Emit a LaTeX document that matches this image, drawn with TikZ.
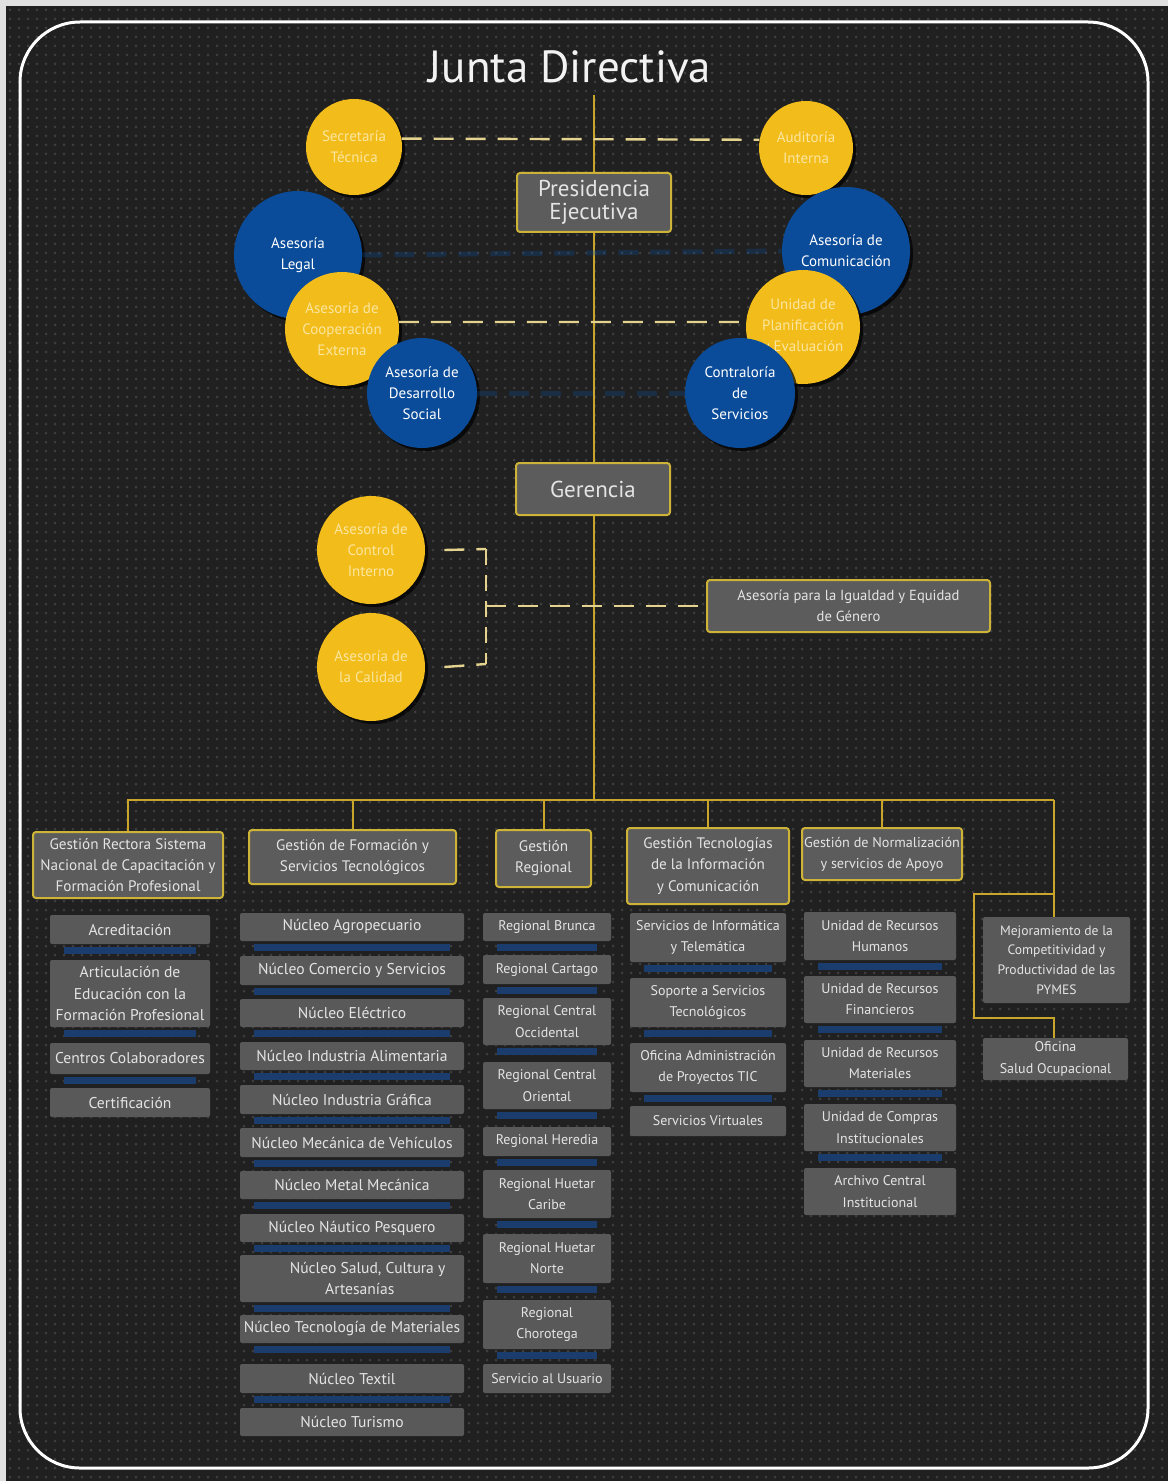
\documentclass[tikz,border=0pt]{standalone}
\usepackage{fontspec}
\setmainfont{PT Sans}
\usetikzlibrary{calc,shadows}

\definecolor{bg}{HTML}{202020}
\definecolor{dotc}{HTML}{3E3E3E}
\definecolor{gold}{HTML}{F2BC1B}
\definecolor{goldtxt}{HTML}{FBE6A0}
\definecolor{navy}{HTML}{0B4C9A}
\definecolor{conncol}{HTML}{C9A52C}
\definecolor{frameY}{HTML}{CDB438}
\definecolor{boxg}{HTML}{5C5C5C}
\definecolor{subg}{HTML}{595959}
\definecolor{barcol}{HTML}{1B3D6E}
\definecolor{dashc}{HTML}{E3D38E}
\definecolor{txt}{HTML}{E4E4E4}

\tikzset{
  wd/.style={minimum width=#1*0.5pt},
  ht/.style={minimum height=#1*0.5pt},
  conn/.style={conncol, line width=1pt},
  dashline/.style={dashc, line width=1.2pt, dash pattern=on 10pt off 6pt},
  blueline/.style={navy, line width=2.5pt, dash pattern=on 10pt off 6pt, opacity=0.3},
  disc/.style={circle, inner sep=0pt, align=center, minimum size=#1*1pt,
    font=\fontsize{7.5}{10.5}\selectfont,
    drop shadow={shadow xshift=1.5pt, shadow yshift=-1.5pt, opacity=0.7, fill=black}},
  gdisc/.style={disc=#1, fill=gold, text=goldtxt},
  bdisc/.style={disc=#1, fill=navy, text=white},
  headbox/.style={draw=frameY, line width=1pt, fill=boxg, rounded corners=1.5pt,
    text=txt, align=center, inner sep=1pt},
  topbox/.style={headbox, font=\fontsize{7.6}{10.6}\selectfont},
  subbox/.style={fill=subg, rounded corners=1pt, text=txt, align=center, inner sep=1pt},
  subA/.style={subbox, font=\fontsize{7.8}{10.8}\selectfont},
  subB/.style={subbox, font=\fontsize{7}{10.6}\selectfont},
}

\begin{document}
\begin{tikzpicture}[x=0.5pt, y=-0.5pt]
% page and background
\fill[white!88!black] (0,0) rectangle (1168,1481);
\fill[bg] (6,6) rectangle (1168,1481);
\foreach \r in {0,...,163}
  \draw[dotc, line width=1.5pt, line cap=round, dash pattern=on 0pt off 4.5pt]
    (10,{10+\r*9}) -- (1168,{10+\r*9});
\draw[white, line width=1.5pt, rounded corners=30pt] (20,22) rectangle (1148,1468);

% title and main spine
\node[text=white!95!black, font=\fontsize{22.5}{26}\selectfont] (title) at (570,67) {Junta Directiva};
\coordinate (top) at (594,95);
\coordinate (busM) at (594,800);
\coordinate (busL) at (127,800);
\coordinate (busR) at (1054,800);
\draw[conn] (top) -- (busM);
\draw[conn] (busL) -- (busR);

% staff circles around the presidency
\node[gdisc=48] (sec) at (354,147) {Secretaría\\Técnica};
\node[gdisc=47] (aud) at (806,148) {Auditoría\\Interna};
\node[bdisc=64] (legal) at (298,255) {Asesoría\\Legal};
\node[bdisc=64] (com) at (846,251) {Asesoría de\\Comunicación};

\draw[dashline] (sec.10) -- (aud.170);
\draw[blueline] (legal.east) -- (com.west);

\node[gdisc=57] (coop) at (342,329) {Asesoría de\\Cooperación\\Externa};
\node[gdisc=57] (plan) at (803,327) {Unidad de\\Planificación\\y Evaluación};
\draw[dashline] (coop.7) -- (plan.175);

\node[bdisc=55] (soc) at (422,393) {Asesoría de\\Desarrollo\\Social};
\node[bdisc=55] (contr) at (740,393) {Contraloría\\de\\Servicios};
\draw[blueline] (soc.east) -- (contr.west);

\node[headbox, wd=154, ht=59, font=\fontsize{11.5}{11.5}\selectfont] (pres) at (594,202.5) {Presidencia\\Ejecutiva};
\node[headbox, wd=154, ht=52, font=\fontsize{11.5}{13}\selectfont] (ger) at (593,489) {Gerencia};

% management advisers
\node[gdisc=54] (ctrl) at (371,550) {Asesoría de\\Control\\Interno};
\node[gdisc=54] (cal) at (371,667) {Asesoría de\\la Calidad};
\node[headbox, wd=283, ht=52, font=\fontsize{7.3}{10.6}\selectfont] (igual) at (848.5,606)
  {Asesoría para la Igualdad y Equidad\\de Género};
\coordinate (bkA) at (486,549);
\coordinate (bkB) at (486,664);
\coordinate (bkM) at (486,606);
\draw[dashline] ([xshift=9.5pt]ctrl.east) -- (bkA);
\draw[dashline] ([xshift=9.5pt]cal.east) -- (bkB);
\draw[dashline, dash pattern=on 8pt off 5pt] (bkA) -- (bkB);
\draw[dashline] (bkM) -- (igual.west);

% second level
\node[topbox, wd=190, ht=66] (g1) at (128,865) {Gestión Rectora Sistema\\Nacional de Capacitación y\\Formación Profesional};
\node[topbox, wd=207, ht=54] (g2) at (352.5,857) {Gestión de Formación y\\Servicios Tecnológicos};
\node[topbox, wd=95, ht=57] (g3) at (543.5,858.5) {Gestión\\Regional};
\node[topbox, wd=162, ht=76] (g4) at (708,866) {Gestión Tecnologías\\de la Información\\y Comunicación};
\node[topbox, wd=160, ht=52, font=\fontsize{7.1}{10.6}\selectfont] (g5) at (882,854) {Gestión de Normalización\\y servicios de Apoyo};
\foreach \g in {g1,g2,g3,g4,g5}
  \draw[conn] (\g.north) -- (\g.north |- busL);

% column 1
\node[subA, wd=160, ht=29] (a1) at (130,929.5) {Acreditación};
\node[subA, wd=160, ht=67] (a2) at (130,993.5) {Articulación de\\Educación con la\\Formación Profesional};
\node[subA, wd=160, ht=31] (a3) at (130,1058.5) {Centros Colaboradores};
\node[subA, wd=160, ht=29] (a4) at (130,1102.5) {Certificación};

% column 2
\node[subA, wd=224, ht=28] (b1) at (352,927) {Núcleo Agropecuario};
\node[subA, wd=224, ht=29] (b2) at (352,970.5) {Núcleo Comercio y Servicios};
\node[subA, wd=224, ht=28] (b3) at (352,1013) {Núcleo Eléctrico};
\node[subA, wd=224, ht=28] (b4) at (352,1056) {Núcleo Industria Alimentaria};
\node[subA, wd=224, ht=29] (b5) at (352,1099.5) {Núcleo Industria Gráfica};
\node[subA, wd=224, ht=29] (b6) at (352,1142.5) {Núcleo Mecánica de Vehículos};
\node[subA, wd=224, ht=28] (b7) at (352,1185) {Núcleo Metal Mecánica};
\node[subA, wd=224, ht=28] (b8) at (352,1228) {Núcleo Náutico Pesquero};
\node[subA, wd=224, ht=47] (b9) at (352,1278.5) {\hspace*{2em}Núcleo Salud, Cultura y\\\hspace*{1em}Artesanías};
\node[subA, wd=224, ht=28] (b10) at (352,1329) {Núcleo Tecnología de Materiales};
\node[subA, wd=224, ht=29] (b11) at (352,1378.5) {Núcleo Textil};
\node[subA, wd=224, ht=28] (b12) at (352,1422) {Núcleo Turismo};

% column 3
\node[subB, wd=128, ht=28] (c1) at (547,927) {Regional Brunca};
\node[subB, wd=128, ht=29] (c2) at (547,969.5) {Regional Cartago};
\node[subB, wd=128, ht=47] (c3) at (547,1021.5) {Regional Central\\Occidental};
\node[subB, wd=128, ht=47] (c4) at (547,1085.5) {Regional Central\\Oriental};
\node[subB, wd=128, ht=29] (c5) at (547,1141.5) {Regional Heredia};
\node[subB, wd=128, ht=48] (c6) at (547,1194) {Regional Huetar\\Caribe};
\node[subB, wd=128, ht=49] (c7) at (547,1258.5) {Regional Huetar\\Norte};
\node[subB, wd=128, ht=49] (c8) at (547,1324.5) {Regional\\Chorotega};
\node[subB, wd=128, ht=29] (c9) at (547,1378.5) {Servicio al Usuario};

% column 4
\node[subB, wd=156, ht=49] (d1) at (708,937.5) {Servicios de Informática\\y Telemática};
\node[subB, wd=156, ht=49] (d2) at (708,1002.5) {Soporte a Servicios\\Tecnológicos};
\node[subB, wd=156, ht=49] (d3) at (708,1067.5) {Oficina Administración\\de Proyectos TIC};
\node[subB, wd=156, ht=30] (d4) at (708,1121) {Servicios Virtuales};

% column 5
\node[subB, wd=152, ht=48] (e1) at (880,936) {Unidad de Recursos\\Humanos};
\node[subB, wd=152, ht=47] (e2) at (880,999.5) {Unidad de Recursos\\Financieros};
\node[subB, wd=152, ht=47] (e3) at (880,1063.5) {Unidad de Recursos\\Materiales};
\node[subB, wd=152, ht=47] (e4) at (880,1127.5) {Unidad de Compras\\Institucionales};
\node[subB, wd=152, ht=47] (e5) at (880,1191.5) {Archivo Central\\Institucional};

% column 6
\node[subB, wd=147, ht=86, font=\fontsize{6.8}{9.8}\selectfont] (f1) at (1056.5,960)
  {Mejoramiento de la\\Competitividad y\\Productividad de las\\PYMES};
\node[subB, wd=145, ht=42] (f2) at (1055.5,1059) {Oficina\\Salud Ocupacional};
\coordinate (r1) at (1054,894);
\coordinate (r2) at (974,894);
\coordinate (r3) at (974,1018);
\coordinate (r4) at (1054,1018);
\draw[conn] (busR) -- (busR |- f1.north);
\draw[conn] (r1) -- (r2) -- (r3) -- (r4) -- (r4 |- f2.north);

% blue rules under the unit boxes
\foreach \n in {a1,a2,a3,b1,b2,b3,b4,b5,b6,b7,b8,b9,b10,b11,
                c1,c2,c3,c4,c5,c6,c7,c8,d1,d2,d3,e1,e2,e3,e4}
  \fill[barcol] ($(\n.south west)+(14,3)$) rectangle ($(\n.south east)+(-14,10)$);
\end{tikzpicture}
\end{document}
